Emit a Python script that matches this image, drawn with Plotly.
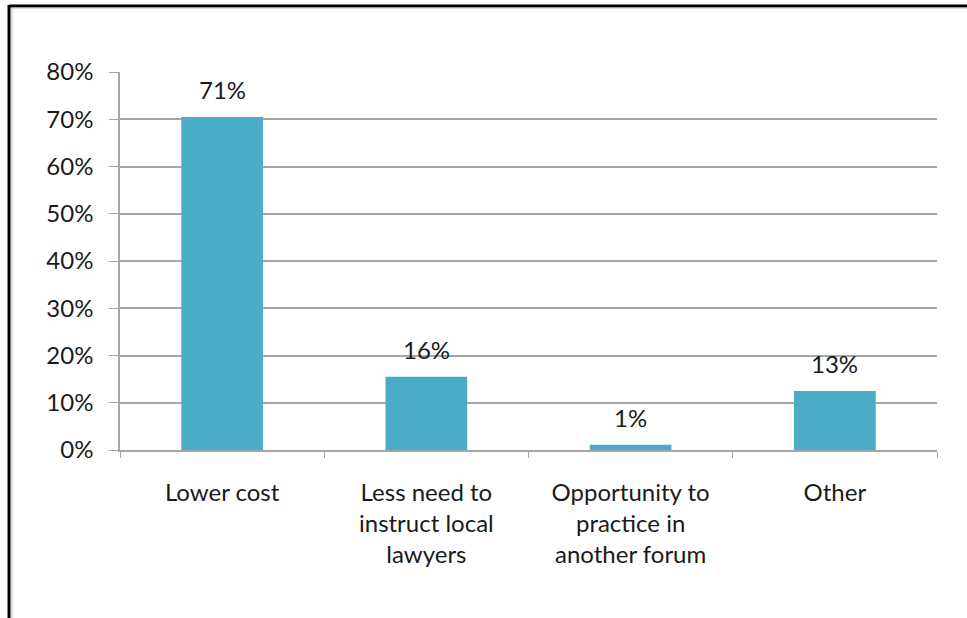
import plotly.graph_objects as go

# Data
categories = ["Lower cost", "Less need to<br>instruct local<br>lawyers",
              "Opportunity to<br>practice in<br>another forum", "Other"]
shares = [0.705, 0.155, 0.011, 0.125]
labels = ["71%", "16%", "1%", "13%"]
y_ticks = [0, 0.1, 0.2, 0.3, 0.4, 0.5, 0.6, 0.7, 0.8]

BAR_COLOR = "#4BACC6"
GRID = "#A6A6A6"
FONT = "Lato"
TEXT = "#1a1a1a"
FS = 24

W, H = 967, 618
L, R, T, B = 120, 30, 72, 168
pw, ph = W - L - R, H - T - B


def px_x(x):
    return (x - L) / pw


def px_y(y):
    return (H - B - y) / ph


fig = go.Figure(go.Bar(x=categories, y=shares, marker_color=BAR_COLOR,
                       marker_line_width=0, width=0.4))

for cat, val, lab in zip(categories, shares, labels):
    fig.add_annotation(x=cat, y=val, text=lab, showarrow=False,
                       yanchor="bottom", yshift=11,
                       font=dict(family=FONT, size=FS, color=TEXT))

# outer frame (top and left edges visible)
fig.add_shape(type="line", xref="paper", yref="paper",
              x0=px_x(9), x1=px_x(967), y0=px_y(6), y1=px_y(6),
              line=dict(color="black", width=3))
fig.add_shape(type="line", xref="paper", yref="paper",
              x0=px_x(9), x1=px_x(9), y0=px_y(5), y1=px_y(618),
              line=dict(color="black", width=3))
fig.add_shape(type="line", xref="paper", yref="paper",
              x0=px_x(12), x1=px_x(12), y0=px_y(8), y1=px_y(618),
              line=dict(color="#BBBBBB", width=1))
fig.add_shape(type="line", xref="paper", yref="paper",
              x0=px_x(12), x1=px_x(967), y0=px_y(8), y1=px_y(8),
              line=dict(color="#BBBBBB", width=1))

fig.update_layout(
    width=W, height=H,
    margin=dict(l=L, r=R, t=T, b=B),
    paper_bgcolor="white", plot_bgcolor="white",
    showlegend=False,
    font=dict(family=FONT, size=FS, color=TEXT),
    xaxis=dict(tickson="boundaries", ticks="outside", ticklen=6,
               tickcolor=GRID, showline=True, linecolor=GRID, linewidth=1.5,
               showgrid=False, tickfont=dict(size=FS), ticklabelstandoff=20),
    yaxis=dict(range=[0, 0.8], tickvals=y_ticks, tickformat=".0%",
               ticks="outside", ticklen=9, tickcolor=GRID,
               showline=True, linecolor=GRID, linewidth=1.5,
               gridcolor=GRID, gridwidth=1.5, zeroline=False,
               tickfont=dict(size=FS), ticklabelstandoff=11),
)

# drop the default page margin so the figure sits at the window's corner
fig.write_html("out.html", config={"displayModeBar": False},
               post_script="document.body.style.margin='0';")
